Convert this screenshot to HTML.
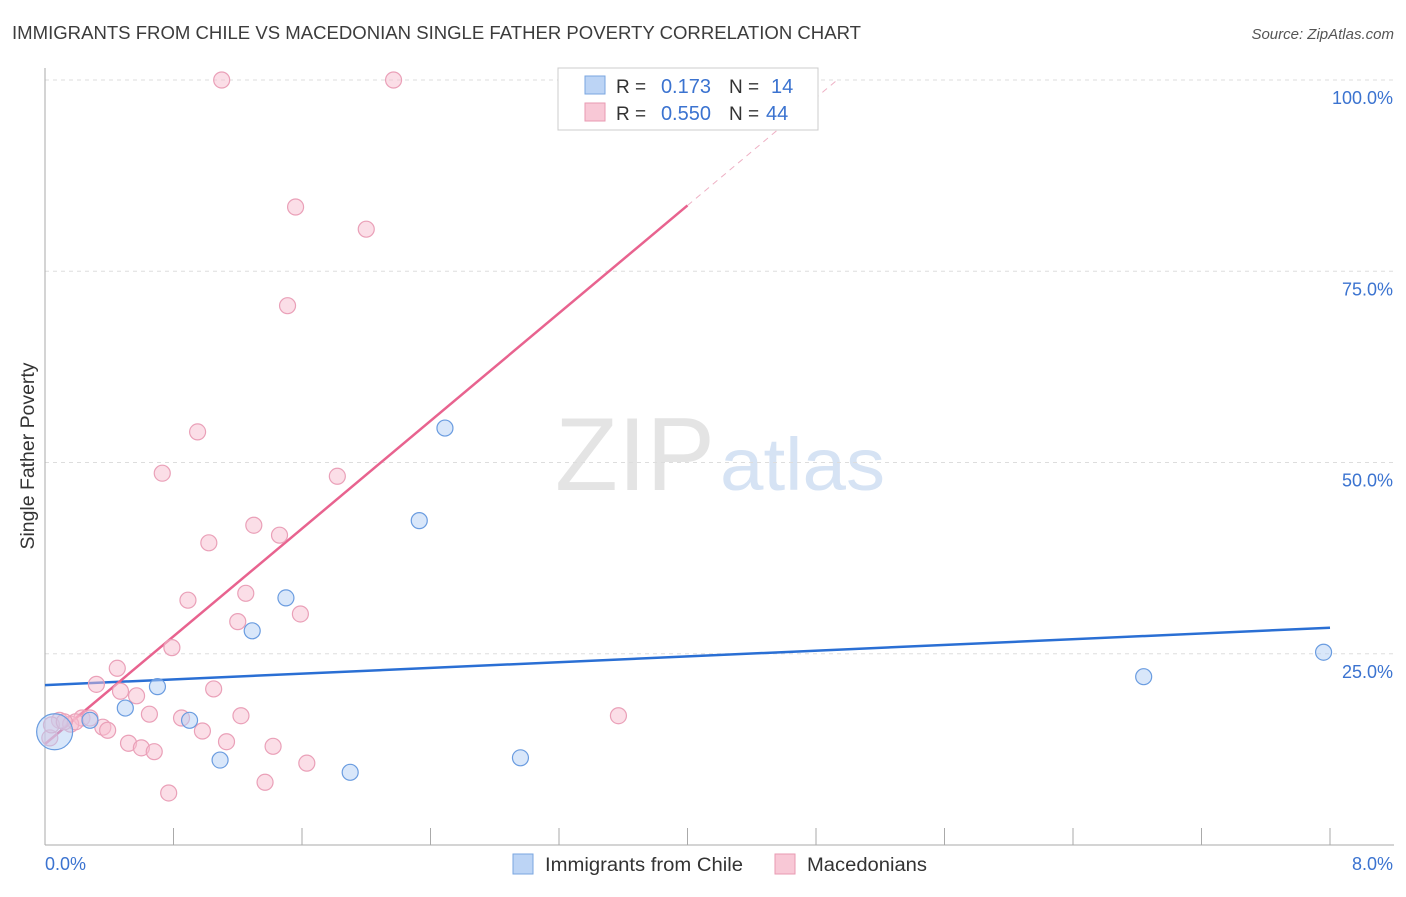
<!DOCTYPE html>
<html><head><meta charset="utf-8"><style>
body{margin:0;background:#fff;font-family:"Liberation Sans",sans-serif;}
svg text{font-family:"Liberation Sans",sans-serif;}
</style></head><body>
<svg id="chart" width="1406" height="892" xmlns="http://www.w3.org/2000/svg">
<text x="12" y="39" font-size="18" fill="#3c3c3c" textLength="849" lengthAdjust="spacingAndGlyphs">IMMIGRANTS FROM CHILE VS MACEDONIAN SINGLE FATHER POVERTY CORRELATION CHART</text>
<text x="1394" y="39" font-size="15" fill="#555" text-anchor="end" font-style="italic">Source: ZipAtlas.com</text>
<text x="555" y="490" font-size="104" fill="#e4e4e4" font-family="Liberation Serif,serif" textLength="160" lengthAdjust="spacingAndGlyphs">ZIP</text>
<text x="720" y="490" font-size="74" fill="#d6e3f4" textLength="165" lengthAdjust="spacingAndGlyphs">atlas</text>
<text transform="translate(34,456) rotate(-90)" font-size="19" fill="#333" text-anchor="middle" textLength="187" lengthAdjust="spacingAndGlyphs">Single Father Poverty</text>
<g id="grid"></g><g id="axes"></g><g id="lines"></g><g id="points"></g>
<g>
<rect x="558" y="68" width="260" height="62" fill="#fff" stroke="#ccc"/>
<rect x="585" y="76" width="20" height="18" fill="#bcd4f5" stroke="#7aa6e0"/>
<text x="616" y="93" font-size="19" fill="#333">R =</text>
<text x="711" y="93" font-size="20" fill="#3b73d0" text-anchor="end">0.173</text>
<text x="729" y="93" font-size="19" fill="#333">N =</text>
<text x="771" y="93" font-size="20" fill="#3b73d0">14</text>
<rect x="585" y="103" width="20" height="18" fill="#f8c8d6" stroke="#e89ab2"/>
<text x="616" y="120" font-size="19" fill="#333">R =</text>
<text x="711" y="120" font-size="20" fill="#3b73d0" text-anchor="end">0.550</text>
<text x="729" y="120" font-size="19" fill="#333">N =</text>
<text x="766" y="120" font-size="20" fill="#3b73d0">44</text>
</g>
<g>
<rect x="513" y="854" width="20" height="20" fill="#bcd4f5" stroke="#7aa6e0"/>
<text x="545" y="871" font-size="19" fill="#333" textLength="198" lengthAdjust="spacingAndGlyphs">Immigrants from Chile</text>
<rect x="775" y="854" width="20" height="20" fill="#f8c8d6" stroke="#e89ab2"/>
<text x="807" y="871" font-size="19" fill="#333" textLength="120" lengthAdjust="spacingAndGlyphs">Macedonians</text>
</g>
</svg>
<script>
const blueX=[0.06,0.28,0.50,0.70,0.90,1.09,1.29,1.50,1.90,2.33,2.49,2.96,6.84,7.96];
const blueY=[14.8,16.3,17.9,20.7,16.3,11.1,28.0,32.3,9.5,42.4,54.5,11.4,22.0,25.2];
const blueR=[18,8,8,8,8,8,8,8,8,8,8,8,8,8];
const pinkX=[1.10,2.17,1.56,2.00,1.51,0.95,0.73,1.82,1.30,1.46,1.02,0.89,1.25,1.20,1.59,0.79,0.45,0.32,0.47,0.57,1.05,0.65,0.85,1.22,3.57,0.09,0.23,0.16,0.36,0.39,0.19,0.98,0.52,0.60,0.68,1.13,1.42,1.63,1.37,0.77,0.03,0.04,0.28,0.12];
const pinkY=[100,100,83.4,80.5,70.5,54.0,48.6,48.2,41.8,40.5,39.5,32.0,32.9,29.2,30.2,25.8,23.1,21.0,20.1,19.5,20.4,17.1,16.6,16.9,16.9,16.3,16.6,15.8,15.4,15.0,16.1,14.9,13.3,12.7,12.2,13.5,12.9,10.7,8.2,6.8,14.0,15.7,16.6,16.1];
const yTicks=[25,50,75,100];
const yTickLabels=["25.0%","50.0%","75.0%","100.0%"];
const xTicks=[0.8,1.6,2.4,3.2,4.0,4.8,5.6,6.4,7.2,8.0];
const blueTrend=[20.9,28.4];
const pinkTrend=[13.2,17.6];
const NS="http://www.w3.org/2000/svg";
const X=v=>45+v/8*1285, Y=v=>845-v*7.65;
function mk(tag,attrs,parent){const e=document.createElementNS(NS,tag);for(const k in attrs)e.setAttribute(k,attrs[k]);document.getElementById(parent).appendChild(e);return e;}
yTicks.forEach((t,i)=>{
 const g=mk('line',{x1:45,x2:1394,y1:Y(t),y2:Y(t),stroke:'#ddd','stroke-dasharray':'4,4'},'grid');
 
 
 const l=mk('text',{x:1393,y:Y(t)+24,'font-size':18,fill:'#3b73d0','text-anchor':'end'},'grid');l.textContent=yTickLabels[i];
 
 
});
const ya=mk('line',{x1:45,x2:45,y1:68,y2:845,stroke:'#aaa'},'axes');


const xa=mk('line',{x1:45,x2:1394,y1:845,y2:845,stroke:'#aaa'},'axes');


xTicks.forEach(t=>{const e=mk('line',{x1:X(t),x2:X(t),y1:828,y2:845,stroke:'#aaa'},'axes');
 
 });
const xl0=mk('text',{x:45,y:870,'font-size':18,fill:'#3b73d0'},'axes');xl0.textContent='0.0%';


const xl1=mk('text',{x:1393,y:870,'font-size':18,fill:'#3b73d0','text-anchor':'end'},'axes');xl1.textContent='8.0%';


pinkX.forEach((x,i)=>{const c=mk('circle',{cx:X(x),cy:Y(pinkY[i]),r:8,fill:'rgba(248,190,208,0.5)',stroke:'#eaa0b8','stroke-width':1.2},'points');
 
 });
blueX.forEach((x,i)=>{const c=mk('circle',{cx:X(x),cy:Y(blueY[i]),r:blueR[i],fill:'rgba(180,208,245,0.5)',stroke:'#6a9ce0','stroke-width':1.2},'points');
 
 });
const bt=mk('line',{x1:X(0),y1:Y(blueTrend[0]),x2:X(8),y2:Y(blueTrend[1]),stroke:'#2a6fd4','stroke-width':2.5},'lines');


const xe=4.0, xd=(100-pinkTrend[0])/pinkTrend[1];
const pt=mk('line',{x1:X(0),y1:Y(pinkTrend[0]),x2:X(xe),y2:Y(pinkTrend[0]+pinkTrend[1]*xe),stroke:'#e8638f','stroke-width':2.5},'lines');


const pd=mk('line',{x1:X(xe),y1:Y(pinkTrend[0]+pinkTrend[1]*xe),x2:X(xd),y2:Y(100),stroke:'#eeb0c4','stroke-width':1,'stroke-dasharray':'6,5'},'lines');


</script>
</body></html>
